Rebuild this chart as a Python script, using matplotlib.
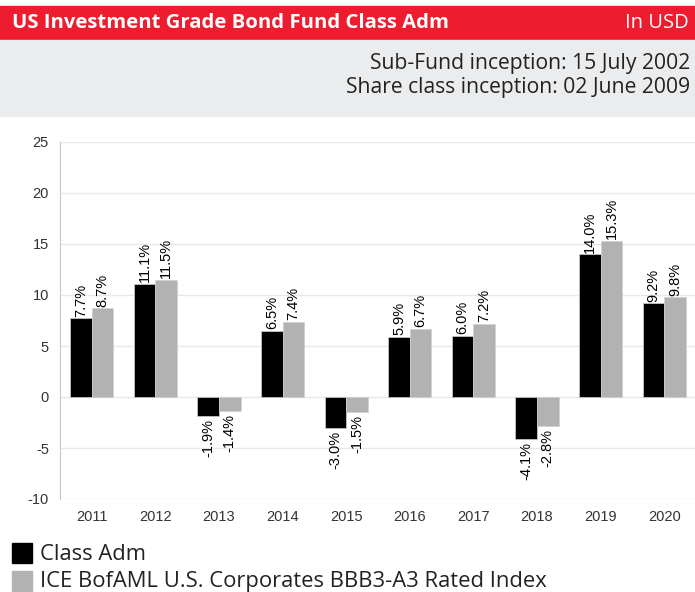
import matplotlib.pyplot as plt
from matplotlib.patches import Rectangle
import numpy as np

plt.rcParams['axes.unicode_minus'] = False

years = ['2011', '2012', '2013', '2014', '2015', '2016', '2017', '2018', '2019', '2020']
fund = [7.7, 11.1, -1.9, 6.5, -3.0, 5.9, 6.0, -4.1, 14.0, 9.2]
index = [8.7, 11.5, -1.4, 7.4, -1.5, 6.7, 7.2, -2.8, 15.3, 9.8]
series_names = ['Class Adm', 'ICE BofAML U.S. Corporates BBB3-A3 Rated Index']
colors = ['#000000', '#b2b2b2']

W, H = 695, 592
fig = plt.figure(figsize=(W / 100, H / 100), dpi=100)
fig.patch.set_facecolor('white')

# header bands
fig.patches.append(Rectangle((0, 1 - 40 / H), 1, 34 / H, transform=fig.transFigure,
                             color='#ed1c2e', zorder=0))
fig.patches.append(Rectangle((0, 1 - 116 / H), 1, 76 / H, transform=fig.transFigure,
                             color='#ebecee', zorder=0))
fig.text(12 / W, 1 - 23 / H, 'US Investment Grade Bond Fund Class Adm', color='white',
         fontsize=14.6, fontweight='bold', family='Open Sans', va='center', ha='left')
fig.text(689 / W, 1 - 23 / H, 'In USD', color='white', fontsize=14.5, family='Open Sans',
         va='center', ha='right')
fig.text(690 / W, 1 - 63 / H, 'Sub-Fund inception: 15 July 2002', color='#222222',
         fontsize=15.2, family='Open Sans', va='center', ha='right')
fig.text(690 / W, 1 - 88 / H, 'Share class inception: 02 June 2009', color='#222222',
         fontsize=15.2, family='Open Sans', va='center', ha='right')

ax = fig.add_axes([60 / W, 1 - 499 / H, 636 / W, 357 / H])
x = np.arange(len(years))
bw = 0.34
for k, (vals, c) in enumerate(zip([fund, index], colors)):
    pos = x + (k - 0.5) * bw
    ax.bar(pos, vals, width=bw, color=c, edgecolor='#d0d0d0', linewidth=0.5,
           zorder=3, label=series_names[k])
    for p, v in zip(pos, vals):
        ax.text(p, v + (0.15 if v >= 0 else -0.3), f'{v:.1f}%', rotation=90,
                ha='center', va='bottom' if v >= 0 else 'top', fontsize=10.5,
                family='Liberation Sans', color='black', zorder=4)

ax.set_xlim(-0.5, 9.5)
ax.set_ylim(-10, 25)
ax.set_yticks(range(-10, 26, 5))
ax.set_xticks(x)
ax.set_xticklabels(years)
ax.yaxis.grid(True, color='#e8e8e8', linewidth=1, zorder=0)
ax.set_axisbelow(True)
for s in ['top', 'right', 'bottom']:
    ax.spines[s].set_visible(False)
ax.spines['left'].set_color('#c8c8c8')
ax.tick_params(axis='both', length=0, labelsize=10.5, colors='#333333', pad=8)
for t in ax.get_xticklabels() + ax.get_yticklabels():
    t.set_family('Liberation Sans')
ax.set_ylabel('%', fontsize=11, family='Liberation Sans', color='#333333')
ax.yaxis.set_label_coords(-58 / 636, (499 - 320) / 357)

# legend
for i, (name, c) in enumerate(zip(series_names, colors)):
    y0 = 543 + i * 28
    fig.patches.append(Rectangle((12 / W, 1 - (y0 + 20) / H), 20 / W, 20 / H,
                                 transform=fig.transFigure, color=c))
    fig.text(40 / W, 1 - (y0 + 11) / H, name, fontsize=15.8, family='Open Sans',
             color='#222222', va='center', ha='left')

fig.savefig('out.png', dpi=100)
